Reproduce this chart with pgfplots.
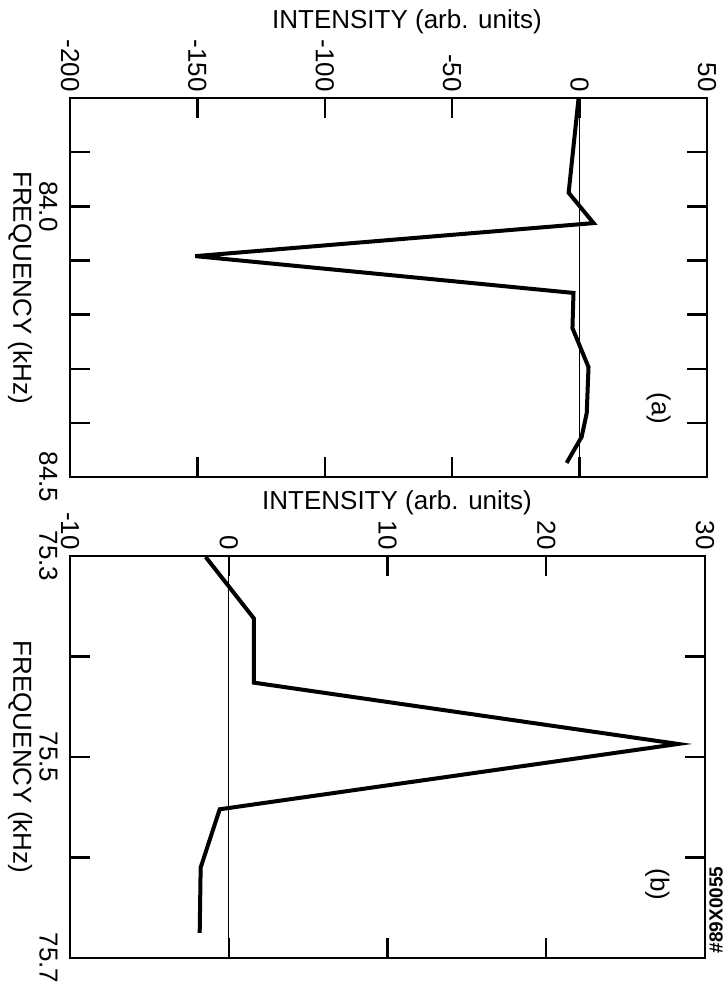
\documentclass[border=0pt]{standalone}
\usepackage{fontspec}
\setmainfont{Liberation Sans}
\usepackage{pgfplots}
\pgfplotsset{compat=1.18}
\begin{document}
\fontsize{13}{15}\selectfont
\begin{tikzpicture}
\pgfplotsset{
  panel/.style={
    scale only axis,
    anchor=south west,
    y dir=reverse,
    axis line style={line width=1.3pt},
    tick style={line width=1.2pt, black},
    major tick length=10pt, minor tick length=10pt,
    tick align=inside,
    xtick pos=both, ytick pos=both,
    xticklabel pos=right,
    yticklabel pos=left,
    /pgf/number format/assume math mode=true,
    every x tick label/.append style={rotate=-90, anchor=east, inner sep=1pt},
    every y tick label/.append style={rotate=-90, anchor=north, inner sep=1pt},
    yticklabel shift=5pt,
    xticklabel shift=2pt,
    every axis y label/.style={at={(rel axis cs:0,0.5)}, anchor=center, xshift=-25pt, rotate=-90},
    clip=false,
  }
}
% panel (a)
\begin{axis}[panel, at={(35pt,-238.5pt)}, width=318.5pt, height=189.5pt,
  xmin=-200, xmax=50, xtick={-200,-150,-100,-50,0,50},
  ymin=83.8, ymax=84.5, ytick={84.0,84.5}, minor ytick={83.9,84.1,84.2,84.3,84.4},
  yticklabel style={/pgf/number format/fixed, /pgf/number format/fixed zerofill, /pgf/number format/precision=1},
  xlabel={INTENSITY (arb. units)}, ylabel={FREQUENCY (kHz)},
  every axis x label/.style={at={(rel axis cs:0.529,1)}, anchor=center, yshift=38pt}]
\addplot[black, line width=0.5pt] coordinates {(0,83.8) (0,84.5)};
\addplot[black, line width=2pt, line join=miter] coordinates {
  (-0.4,83.800) (-4.3,83.975) (5.5,84.031) (-150.8,84.092) (-2.4,84.160)
  (-2.8,84.225) (3.5,84.297) (2.8,84.382) (0.8,84.426) (-5.1,84.474)};
\node[rotate=-90] at (axis cs:31,84.373) {(a)};
\end{axis}
% panel (b)
\begin{axis}[panel, at={(35pt,-479pt)}, width=317.5pt, height=201pt,
  xmin=-10, xmax=30, xtick={-10,0,10,20,30},
  ymin=75.3, ymax=75.7, ytick={75.3,75.5,75.7}, minor ytick={75.4,75.6},
  yticklabel style={/pgf/number format/fixed, /pgf/number format/fixed zerofill, /pgf/number format/precision=1},
  xlabel={INTENSITY (arb. units)}, ylabel={FREQUENCY (kHz)},
  every axis x label/.style={at={(rel axis cs:0.515,1)}, anchor=center, yshift=26.5pt}]
\addplot[black, line width=0.5pt] coordinates {(0,75.3) (0,75.7)};
\addplot[black, line width=2pt, line join=miter] coordinates {
  (-1.45,75.301) (1.58,75.362) (1.58,75.426) (28.3,75.487) (-0.57,75.552)
  (-1.77,75.610) (-1.83,75.675)};
\node[rotate=-90] at (axis cs:27,75.627) {(b)};
\end{axis}
\node[rotate=90, font=\fontsize{9.5}{11}\selectfont\bfseries] at (358pt,-455pt) {\#89X0055};
\pgfresetboundingbox
\path[use as bounding box] (0,0) rectangle (364pt,-496.5pt);
\end{tikzpicture}
\end{document}
